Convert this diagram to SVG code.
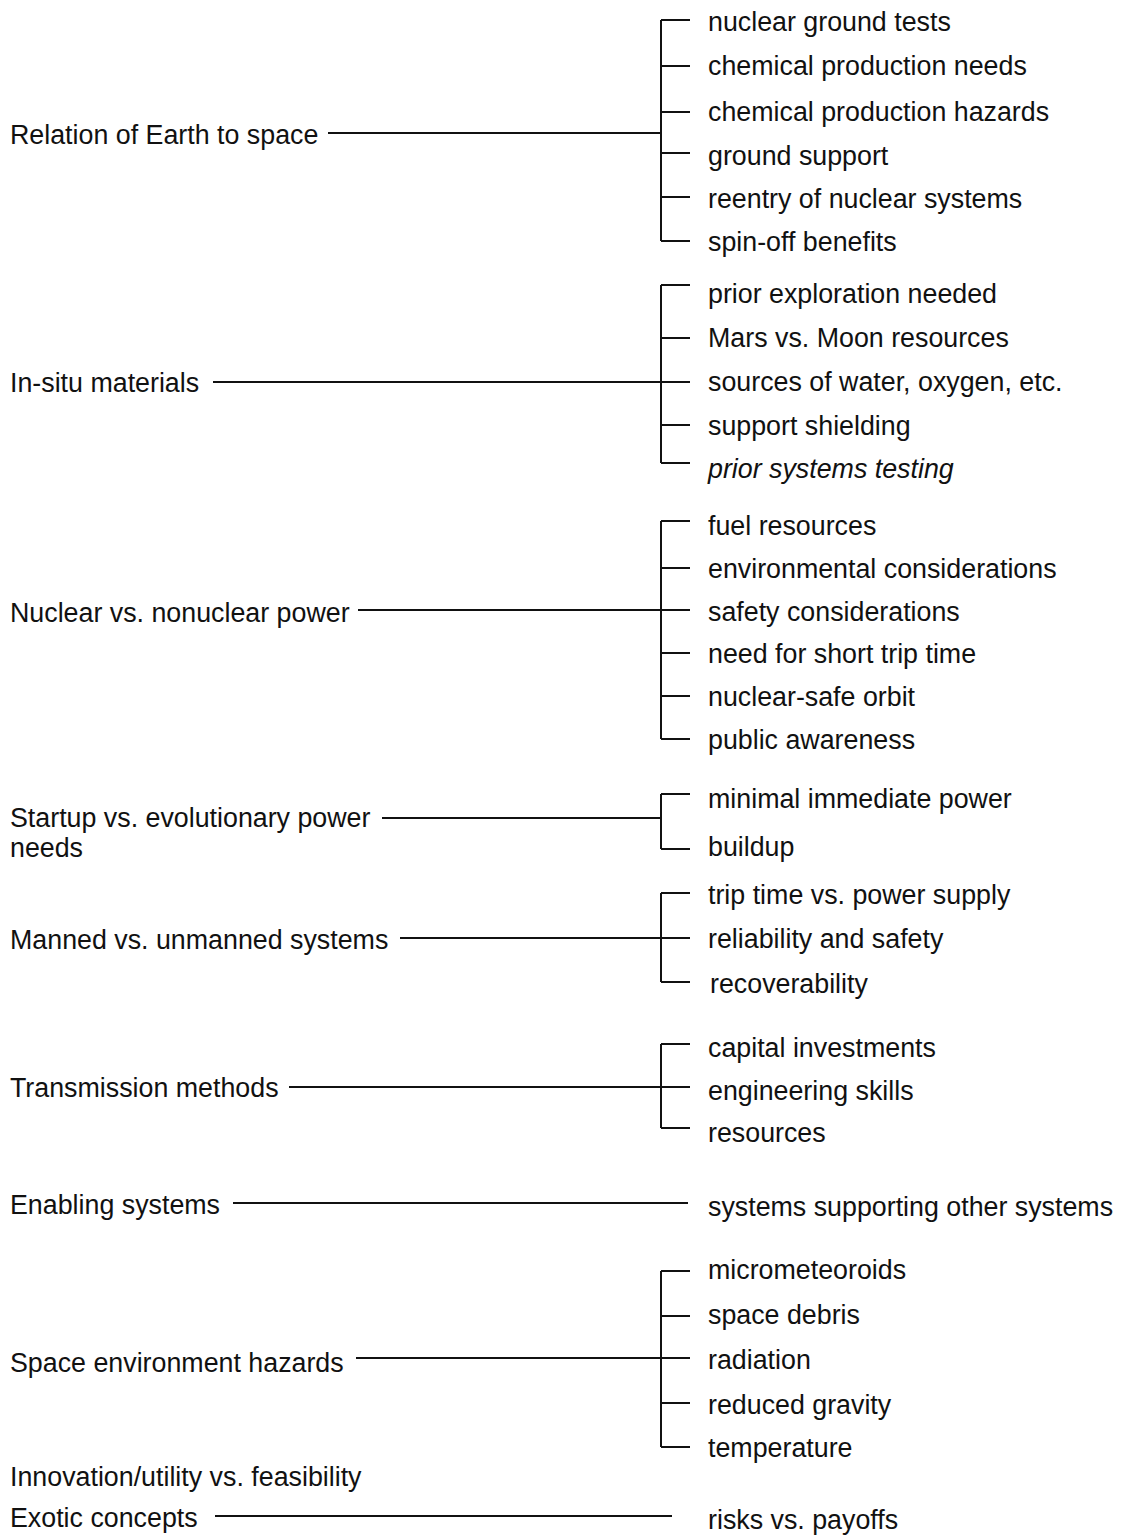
<svg xmlns="http://www.w3.org/2000/svg" width="1125" height="1536" viewBox="0 0 1125 1536">
<style>
text{font-family:"Liberation Sans",Arial,Helvetica,sans-serif;font-size:26.8px;fill:#111}
.it{font-style:italic}
.ln{stroke:#111;stroke-width:2;fill:none}
</style>
<rect width="1125" height="1536" fill="#fff"/>
<g id="connectors" class="ln">
<path d="M328 133H661M661 20V241M661 20H690M661 66H690M661 112H690M661 153H690M661 197H690M661 241H690"/>
<path d="M213 382H661M661 285V463M661 285H690M661 338H690M661 382H690M661 425H690M661 463H690"/>
<path d="M358 610H661M661 521V739M661 521H690M661 568H690M661 610H690M661 653H690M661 696H690M661 739H690"/>
<path d="M382 818H661M661 794V849M661 794H690M661 849H690"/>
<path d="M400 938H661M661 893V982M661 893H690M661 938H690M661 982H690"/>
<path d="M289 1087H661M661 1044V1128M661 1044H690M661 1087H690M661 1128H690"/>
<path d="M233 1203H688"/>
<path d="M356 1358H661M661 1271V1447M661 1271H690M661 1316H690M661 1358H690M661 1403H690M661 1447H690"/>
<path d="M215 1516H672"/>
</g>
<g id="n1"><text x="10" y="144">Relation of Earth to space</text>
<text x="708" y="31">nuclear ground tests</text><text x="708" y="75">chemical production needs</text><text x="708" y="121">chemical production hazards</text><text x="708" y="165">ground support</text><text x="708" y="208">reentry of nuclear systems</text><text x="708" y="251">spin-off benefits</text></g>
<g id="n2"><text x="10" y="392">In-situ materials</text>
<text x="708" y="303">prior exploration needed</text><text x="708" y="347">Mars vs. Moon resources</text><text x="708" y="391">sources of water, oxygen, etc.</text><text x="708" y="435">support shielding</text><text class="it" x="708" y="478">prior systems testing</text></g>
<g id="n3"><text x="10" y="622">Nuclear vs. nonuclear power</text>
<text x="708" y="535">fuel resources</text><text x="708" y="578">environmental considerations</text><text x="708" y="621">safety considerations</text><text x="708" y="663">need for short trip time</text><text x="708" y="706">nuclear-safe orbit</text><text x="708" y="749">public awareness</text></g>
<g id="n4"><text x="10" y="827">Startup vs. evolutionary power</text><text x="10" y="857">needs</text>
<text x="708" y="808">minimal immediate power</text><text x="708" y="856">buildup</text></g>
<g id="n5"><text x="10" y="949">Manned vs. unmanned systems</text>
<text x="708" y="904">trip time vs. power supply</text><text x="708" y="948">reliability and safety</text><text x="710" y="993">recoverability</text></g>
<g id="n6"><text x="10" y="1097">Transmission methods</text>
<text x="708" y="1057">capital investments</text><text x="708" y="1100">engineering skills</text><text x="708" y="1142">resources</text></g>
<g id="n7"><text x="10" y="1214">Enabling systems</text><text x="708" y="1216">systems supporting other systems</text></g>
<g id="n8"><text x="10" y="1372">Space environment hazards</text>
<text x="708" y="1279">micrometeoroids</text><text x="708" y="1324">space debris</text><text x="708" y="1369">radiation</text><text x="708" y="1414">reduced gravity</text><text x="708" y="1457">temperature</text></g>
<g id="n9"><text x="10" y="1486">Innovation/utility vs. feasibility</text></g>
<g id="n10"><text x="10" y="1527">Exotic concepts</text><text x="708" y="1529">risks vs. payoffs</text></g>
</svg>
